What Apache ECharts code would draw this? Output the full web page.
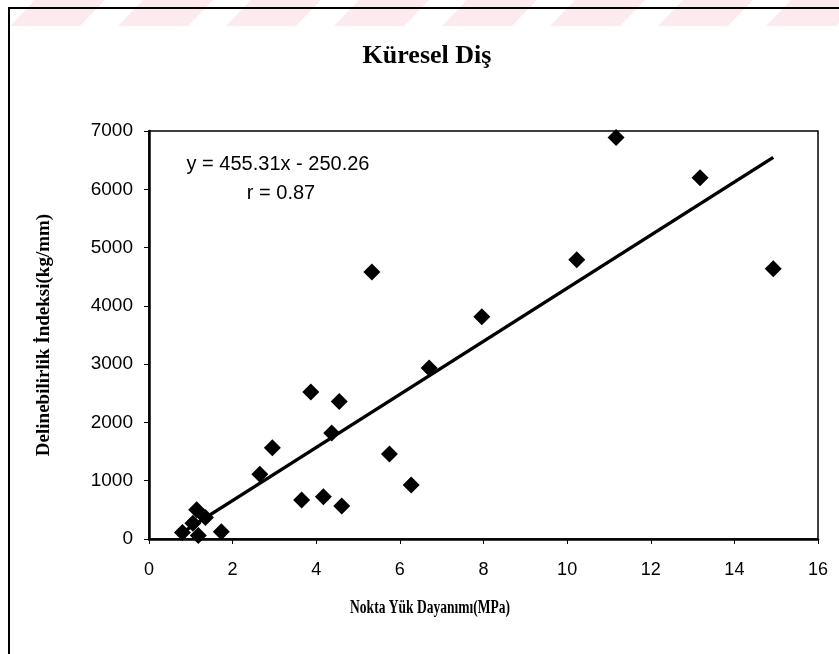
<!DOCTYPE html>
<html>
<head>
<meta charset="utf-8">
<script src="https://cdn.jsdelivr.net/npm/echarts@6/dist/echarts.min.js"></script>
<style>html,body{margin:0;padding:0;background:#fff}#c{width:839px;height:654px}</style>
</head>
<body>
<div id="c"></div>
<script>
var titleText = 'Küresel Diş';
var xAxisName = 'Nokta Yük Dayanımı(MPa)';
var yAxisName = 'Delinebilirlik İndeksi(kg/mm)';
var xValues = [0.80, 1.05, 1.14, 1.18, 1.35, 1.73, 2.65, 2.95, 3.65, 3.87, 4.17, 4.37, 4.55, 4.61, 5.33, 5.75, 6.27, 6.70, 7.96, 10.23, 11.17, 13.18, 14.93];
var yValues = [110, 270, 500, 60, 370, 125, 1110, 1565, 670, 2520, 725, 1820, 2360, 565, 4580, 1460, 925, 2935, 3815, 4790, 6890, 6200, 4635];
var slope = 455.31;
var intercept = -250.26;
var equationLines = ['y = 455.31x - 250.26', 'r = 0.87'];

var points = xValues.map(function (x, i) { return [x, yValues[i]]; });
var xMin = Math.min.apply(null, xValues), xMax = Math.max.apply(null, xValues);
var trend = [[xMin, slope * xMin + intercept], [xMax, slope * xMax + intercept]];

var chart = echarts.init(document.getElementById('c'), null, {renderer: 'canvas'});

var stripes = [];
for (var i = -1; i < 12; i++) {
  var x0 = i * 108 + 10;
  stripes.push({
    type: 'polygon', silent: true, z: -10,
    shape: {points: [[x0, 26], [x0 + 70, 26], [x0 + 95, 0], [x0 + 25, 0]]},
    style: {fill: '#fdeaee'}
  });
}

chart.setOption({
  backgroundColor: '#fff',
  animation: false,
  grid: {left: 149, right: 21, top: 131, bottom: 115, show: true, borderColor: '#000', borderWidth: 1.5, backgroundColor: 'transparent'},
  xAxis: {
    type: 'value', min: 0, max: 16, interval: 2,
    axisLine: {show: true, onZero: false, lineStyle: {color: '#000', width: 2.5}},
    axisTick: {show: true, length: 5, inside: false, lineStyle: {color: '#000', width: 1}},
    axisLabel: {margin: 22, fontFamily: 'Liberation Sans', fontSize: 18, color: '#000'},
    splitLine: {show: false}
  },
  yAxis: {
    type: 'value', min: 0, max: 7000, interval: 1000,
    name: yAxisName, nameLocation: 'middle', nameGap: 95, nameRotate: 90,
    nameTextStyle: {fontFamily: 'Liberation Serif', fontWeight: 'bold', fontSize: 19, color: '#000'},
    axisLine: {show: true, onZero: false, lineStyle: {color: '#000', width: 2.5}},
    axisTick: {show: true, length: 5, inside: false, lineStyle: {color: '#000', width: 1}},
    axisLabel: {margin: 16, fontFamily: 'Liberation Sans', fontSize: 19, color: '#000', formatter: function (v) { return String(v); }},
    splitLine: {show: false}
  },
  graphic: stripes.concat([
    {type: 'rect', silent: true, z: -5, shape: {x: 9, y: 8, width: 900, height: 800}, style: {fill: 'transparent', stroke: '#000', lineWidth: 2}},
    {type: 'text', x: 427, y: 56, z: 10, style: {text: titleText, font: 'bold 26px "Liberation Serif"', fill: '#000', textAlign: 'center', textVerticalAlign: 'middle'}},
    {type: 'text', x: 430, y: 608, scaleX: 0.75, z: 10, style: {text: xAxisName, font: 'bold 18px "Liberation Serif"', fill: '#000', textAlign: 'center', textVerticalAlign: 'middle'}},
    {type: 'text', x: 278, y: 164, z: 10, style: {text: equationLines[0], font: '20px "Liberation Sans"', fill: '#000', textAlign: 'center', textVerticalAlign: 'middle'}},
    {type: 'text', x: 281, y: 193, z: 10, style: {text: equationLines[1], font: '20px "Liberation Sans"', fill: '#000', textAlign: 'center', textVerticalAlign: 'middle'}}
  ]),
  series: [
    {
      type: 'line', data: trend, symbol: 'none', silent: true, z: 3,
      lineStyle: {color: '#000', width: 3.5}
    },
    {
      type: 'scatter', data: points, symbol: 'diamond', symbolSize: 17, z: 4,
      itemStyle: {color: '#000', opacity: 1}
    }
  ]
});
</script>
</body>
</html>
